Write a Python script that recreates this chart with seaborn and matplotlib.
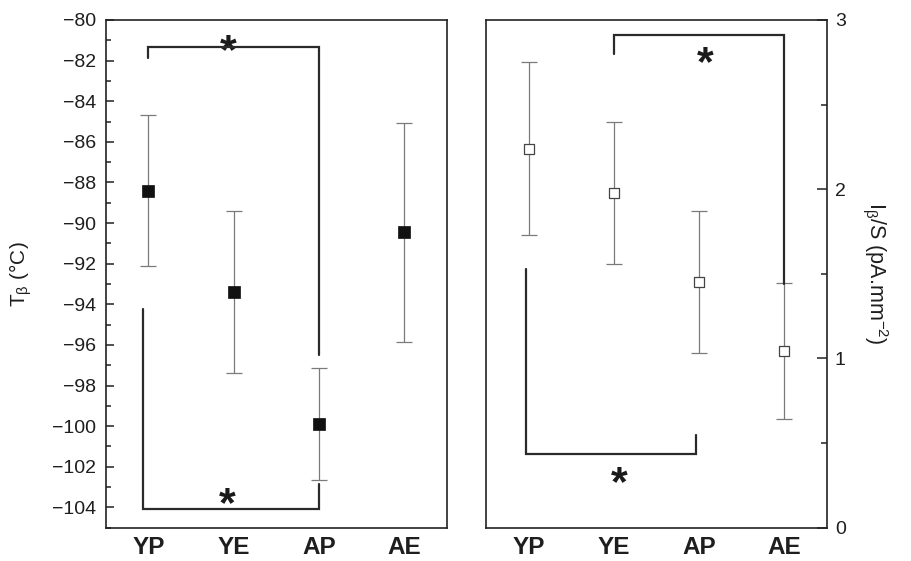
import matplotlib
matplotlib.use("Agg")
import numpy as np
import pandas as pd
import matplotlib.pyplot as plt
import seaborn as sns
from matplotlib.ticker import MultipleLocator

groups = ["YP", "YE", "AP", "AE"]

# T_beta (°C): mean and error bar half-width
t_beta = [-88.4, -93.4, -99.9, -90.45]
t_beta_err = [3.7, 4.0, 2.75, 5.4]

# I_beta/S (pA.mm-2): mean and error bar half-width
i_beta = [2.24, 1.98, 1.45, 1.045]
i_beta_err = [0.51, 0.42, 0.42, 0.40]

# significance brackets: (x left, x right, y of bar, y end left leg, y end right leg)
t_brackets = [(0, 2, -81.35, -81.85, -96.5),
              (-0.06, 2, -104.1, -94.25, -102.85)]
t_stars = [(0.94, -80.9), (0.93, -103.2)]
i_brackets = [(1, 3, 2.91, 2.80, 1.44),
              (-0.04, 1.96, 0.433, 1.53, 0.545)]
i_stars = [(2.07, 2.82), (1.06, 0.338)]

sns.set_theme(style="ticks")
plt.rcParams["font.family"] = ["Liberation Sans", "DejaVu Sans"]
plt.rcParams["mathtext.default"] = "regular"
plt.rcParams["axes.unicode_minus"] = True
plt.rcParams["text.color"] = "#1e1e1e"
plt.rcParams["axes.labelcolor"] = "#1e1e1e"
plt.rcParams["ytick.labelcolor"] = "#1e1e1e"
plt.rcParams["xtick.labelcolor"] = "#1e1e1e"

df = pd.DataFrame({"group": groups, "t_beta": t_beta, "t_err": t_beta_err,
                   "i_beta": i_beta, "i_err": i_beta_err})

fig = plt.figure(figsize=(9.12, 5.61), dpi=100)
ax1 = fig.add_axes([0.1159, 0.0594, 0.3739, 0.905])
ax2 = fig.add_axes([0.5334, 0.0594, 0.373, 0.905])

BRACKET_COLOR = "#2a2a2a"
ERR_COLOR = "#7a7a7a"
STAR_FS = 31


def draw_bracket(ax, b):
    x0, x1, y, y0, y1 = b
    ax.plot([x0, x0, x1, x1], [y0, y, y, y1], color=BRACKET_COLOR, lw=1.6,
            solid_joinstyle="miter", zorder=4)


def draw_star(ax, s):
    ax.annotate("*", xy=s, xytext=(0, -0.57 * STAR_FS), textcoords="offset points",
                ha="center", va="baseline", fontsize=STAR_FS, fontweight="bold",
                color="#1a1a1a")


# left panel
sns.scatterplot(data=df, x="group", y="t_beta", marker="s", s=64, color="#111111",
                edgecolor="#111111", linewidth=0.5, ax=ax1, zorder=3)
ax1.errorbar(groups, t_beta, yerr=t_beta_err, fmt="none", ecolor=ERR_COLOR,
             elinewidth=0.9, capsize=6, capthick=0.9, zorder=2)
for b in t_brackets:
    draw_bracket(ax1, b)
for s in t_stars:
    draw_star(ax1, s)
ax1.set_xlim(-0.5, 3.5)
ax1.set_ylim(-105, -80)
ax1.yaxis.set_major_locator(MultipleLocator(2))
ax1.yaxis.set_minor_locator(MultipleLocator(1))
ax1.tick_params(axis="y", which="both", direction="in", left=True, right=False,
                labelsize=14, pad=7, width=1.1, color="#222222")
ax1.tick_params(axis="y", which="major", length=6)
ax1.tick_params(axis="y", which="minor", length=3.5)
ax1.set_ylabel("T$_\\beta$ (°C)", fontsize=15, labelpad=13)

# right panel
sns.scatterplot(data=df, x="group", y="i_beta", marker="s", s=55, color="white",
                edgecolor="#444444", linewidth=0.9, ax=ax2, zorder=3)
ax2.errorbar(groups, i_beta, yerr=i_beta_err, fmt="none", ecolor=ERR_COLOR,
             elinewidth=0.9, capsize=6, capthick=0.9, zorder=2)
for b in i_brackets:
    draw_bracket(ax2, b)
for s in i_stars:
    draw_star(ax2, s)
ax2.set_xlim(-0.5, 3.5)
ax2.set_ylim(0, 3)
ax2.yaxis.tick_right()
ax2.yaxis.set_label_position("right")
ax2.yaxis.set_major_locator(MultipleLocator(1))
ax2.yaxis.set_minor_locator(MultipleLocator(0.5))
ax2.tick_params(axis="y", which="both", direction="in", left=False, right=True,
                labelsize=14, pad=6, width=1.1, color="#222222")
ax2.tick_params(axis="y", which="major", length=7)
ax2.tick_params(axis="y", which="minor", length=4)
ax2.set_ylabel("I$_\\beta$/S (pA.mm$^{-2}$)", fontsize=15.5, rotation=270,
               va="bottom", labelpad=11)

for ax in (ax1, ax2):
    ax.set_xlabel("")
    ax.tick_params(axis="x", length=0, pad=6)
    for lab in ax.get_xticklabels():
        lab.set_fontsize(17.5)
        lab.set_fontweight("bold")
    for sp in ax.spines.values():
        sp.set_visible(True)
        sp.set_linewidth(1.2)
        sp.set_color("#222222")

fig.savefig("out.png", dpi=100)
